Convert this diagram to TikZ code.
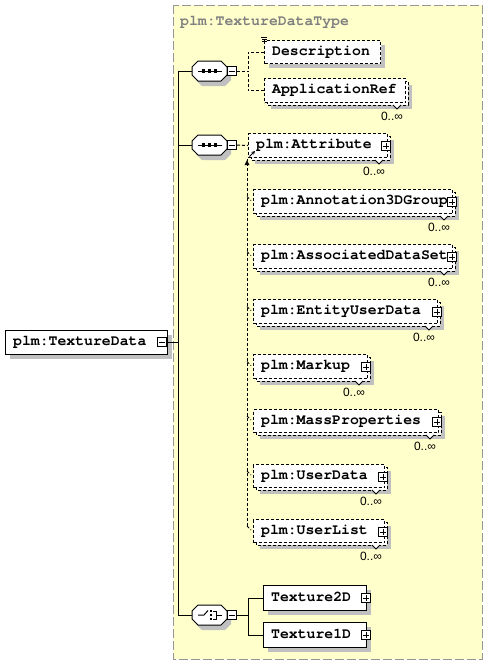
\documentclass[tikz,border=0pt]{standalone}
\usepackage{fontspec}
\newfontfamily\xsdmono{TeX Gyre Cursor}
\newfontfamily\xsdsans{Liberation Sans}
\usetikzlibrary{arrows.meta,calc}
\definecolor{bgyellow}{RGB}{255,255,204}
\definecolor{shadowgray}{RGB}{192,192,192}
\definecolor{framegray}{RGB}{150,150,150}
\definecolor{titlegray}{RGB}{128,128,128}
\tikzset{
  boxsolid/.style={draw=black, line width=1pt, fill=white, anchor=north west, inner sep=0pt},
  boxdash/.style={boxsolid, dash pattern=on 3pt off 2pt},
  elemtext/.style={anchor=west, inner sep=0pt, text height=9pt, text depth=3pt,
    font=\xsdmono\bfseries\fontsize{14.8}{16}\selectfont},
  multtext/.style={inner sep=0pt, font=\xsdsans\fontsize{12}{13}\selectfont},
  pmbox/.style={draw=black, line width=1pt, fill=white, minimum size=9pt, inner sep=0pt},
  conn/.style={draw=black, line width=1pt},
  dconn/.style={conn, dash pattern=on 3pt off 2pt},
}
% single element box: name, x1, y1, x2, y2, text, style
\newcommand\xsdsingle[7]{%
  \fill[shadowgray] (#2+5,#3+5) rectangle (#4+5,#5+5);
  \node[#7, minimum width=#4-#2, minimum height=#5-#3] (#1) at (#2,#3) {};
  \node[elemtext] (#1-t) at ([xshift=8pt]#1.west) {#6};}
% repeated element box: name, x1, y1, x2, y2, text
\newcommand\xsdmulti[6]{%
  \fill[shadowgray] (#2+7,#3+7) rectangle (#4+7,#5+7);
  \draw[boxdash] (#2+3,#3+3) rectangle (#4+3,#5+3);
  \filldraw[fill=white, draw=black, line width=1pt] (#4-12,#5+3) -- (#4-8,#5+7) -- (#4-4,#5+3);
  \node[boxdash, minimum width=#4-#2, minimum height=#5-#3] (#1) at (#2,#3) {};
  \node[elemtext] (#1-t) at ([xshift=8pt]#1.west) {#6};
  \node[multtext] (#1-m) at (#4-13,#5+14) {0..∞};}
\newcommand\xsdplus[3]{%
  \node[pmbox] (#1) at (#2,#3) {};
  \draw[line width=1pt] ([xshift=2pt]#1.west) -- ([xshift=-2pt]#1.east)
    ([yshift=-2pt]#1.north) -- ([yshift=2pt]#1.south);}
\newcommand\xsdminus[3]{%
  \node[pmbox] (#1) at (#2,#3) {};
  \draw[line width=1pt] ([xshift=2pt]#1.west) -- ([xshift=-2pt]#1.east);}
\newcommand\octfill[3]{%
  \path[#1] (#2-11.5,#3-10) -- (#2+11.5,#3-10) -- (#2+17.5,#3-4) -- (#2+17.5,#3+4)
    -- (#2+11.5,#3+10) -- (#2-11.5,#3+10) -- (#2-17.5,#3+4) -- (#2-17.5,#3-4) -- cycle;}
% compositor: name, cx, cy
\newcommand\xsdocta[3]{%
  \octfill{fill=shadowgray}{#2+4}{#3+5}
  \octfill{fill=white, draw=black, line width=1pt}{#2}{#3}
  \node[inner sep=0pt, minimum width=35pt, minimum height=20pt] (#1) at (#2,#3) {};}
\newcommand\seqicon[2]{%
  \draw[line width=1pt] (#1-11.5,#2) -- (#1+12,#2);
  \foreach \dx in {-6,0,6} \fill (#1+\dx-1.6,#2-1.6) rectangle (#1+\dx+1.6,#2+1.6);}
\newcommand\choiceicon[2]{%
  \draw[line width=1pt] (#1-11.5,#2) -- (#1-5.5,#2) -- (#1-1.5,#2-4.5);
  \foreach \dy in {-4,0,4} \fill (#1+1.5-1.3,#2+\dy-1.3) rectangle (#1+1.5+1.3,#2+\dy+1.3);
  \draw[line width=1pt] (#1+3.5,#2-4) -- (#1+6.5,#2-4) -- (#1+6.5,#2+4) -- (#1+3.5,#2+4)
    (#1+6.5,#2) -- (#1+12,#2);}
\begin{document}
\begin{tikzpicture}[x=1pt,y=-1pt]
\useasboundingbox (0,0) rectangle (488,665);
\fill[white] (0,0) rectangle (488,665);
% type background
\path[fill=bgyellow, draw=framegray, line width=1pt, dash pattern=on 9pt off 3pt] (173,5) rectangle (482,659);
\node[anchor=base west, inner sep=0pt, text=titlegray, font=\xsdmono\bfseries\fontsize{14.8}{16}\selectfont] (title) at (180,25) {plm:TextureDataType};

% root element
\xsdsingle{main}{5}{330}{167}{354}{plm:TextureData}{boxsolid}
\xsdminus{mainpm}{162}{342}

% compositors
\xsdocta{seqA}{209.5}{71}
\seqicon{209.5}{71}
\xsdminus{seqApm}{232}{71}
\xsdocta{seqB}{209.5}{145}
\seqicon{209.5}{145}
\xsdminus{seqBpm}{232}{145}
\xsdocta{choice}{209.5}{615}
\choiceicon{209.5}{615}
\xsdminus{chpm}{232}{615}

% first sequence
\xsdsingle{desc}{264}{40}{380}{63}{Description}{boxdash}
\draw[line width=0.8pt] (261,37.5) -- (267,37.5) (262,39.5) -- (267,39.5) (262,41.5) -- (267,41.5);
\xsdmulti{appref}{264}{78}{405}{102}{ApplicationRef}

% second sequence and substitution group
\xsdmulti{attr}{248}{133}{387}{157}{plm:Attribute}
\xsdplus{attrp}{386}{146}
\xsdmulti{anno}{253}{189}{452}{213}{plm:Annotation3DGroup}
\xsdplus{annop}{452}{202}
\xsdmulti{assoc}{253}{244}{452}{268}{plm:AssociatedDataSet}
\xsdplus{assocp}{452}{257}
\xsdmulti{entity}{253}{299}{437}{323}{plm:EntityUserData}
\xsdplus{entityp}{437}{312}
\xsdmulti{markup}{253}{354}{367}{378}{plm:Markup}
\xsdplus{markupp}{366}{367}
\xsdmulti{mass}{253}{409}{438}{432}{plm:MassProperties}
\xsdplus{massp}{437}{422}
\xsdmulti{udata}{253}{464}{384}{487}{plm:UserData}
\xsdplus{udatap}{383}{477}
\xsdmulti{ulist}{253}{519}{384}{542}{plm:UserList}
\xsdplus{ulistp}{383}{532}

% choice
\xsdsingle{t2d}{263}{585}{366}{610}{Texture2D}{boxsolid}
\xsdplus{t2dp}{366}{598}
\xsdsingle{t1d}{263}{622}{366}{647}{Texture1D}{boxsolid}
\xsdplus{t1dp}{366}{635}

% connectors
\coordinate (tTop) at (178,71);
\coordinate (tBot) at (178,615);
\draw[conn] (seqA.west) -- (tTop) -- (tBot) -- (choice.west);
\draw[conn] (seqB.west) -- (seqB.west -| tTop);
\draw[conn] (mainpm.east) -- (mainpm.east -| tTop);

\coordinate (jA) at (248,71);
\draw[dconn] (seqApm.east) -- (jA);
\draw[dconn] (desc.west) -| (jA);
\draw[dconn] (appref.west) -| (jA);

\draw[dconn] (seqBpm.east) -- (attr.west);

\coordinate (jC) at (248,615);
\draw[conn] (chpm.east) -- (jC);
\draw[conn] (t2d.west) -| (jC);
\draw[conn] (t1d.west) -| (jC);

% substitution group line
\coordinate (subTop) at (247,159);
\coordinate (subBot) at (247,526);
\draw[dconn] (subBot) -- (subTop);
\fill (244.5,165) -- (249.5,165) -- (247,160) -- cycle;
\draw[line width=0.8pt, -{Stealth[length=3.5pt,width=3.5pt]}] (249.5,156.5) -- (255,151);
\foreach \n in {anno,assoc,entity,markup,mass,udata,ulist}
  \draw[dconn] ($(\n.west)+(-6,-5)$) -- ($(\n.west)+(-2,-1)$);
\end{tikzpicture}
\end{document}
